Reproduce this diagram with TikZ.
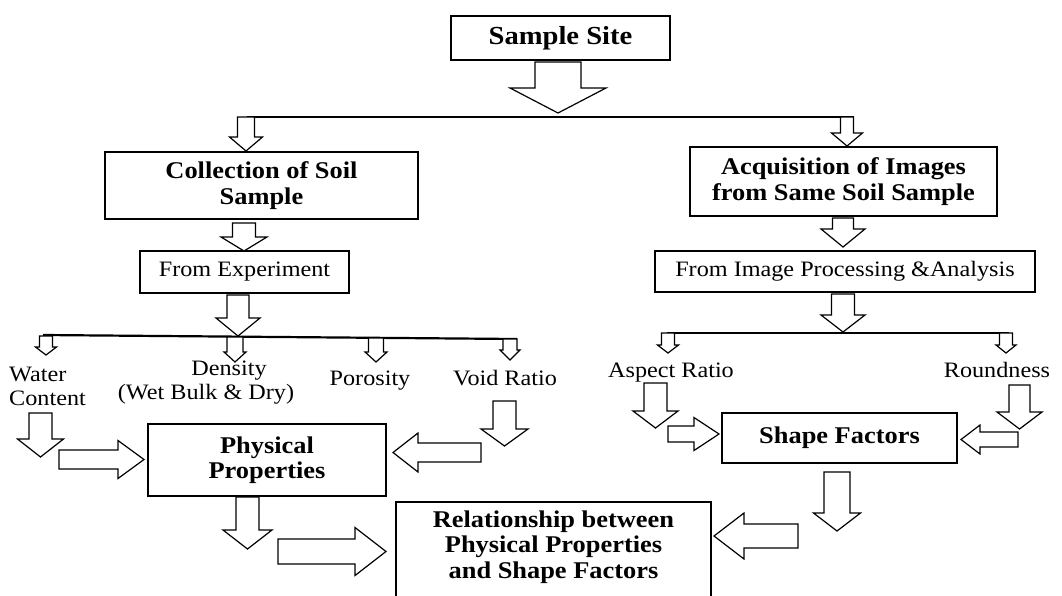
\documentclass[tikz,border=0pt]{standalone}
\usepackage{fontspec}
\setmainfont[FakeStretch=1.1]{Liberation Serif}
\newcommand\dnarrow[6]{\draw[blockarrow] ({#1-#3},#2) -- ({#1-#3},#4) -- ({#1-#5},#4) -- (#1,#6) -- ({#1+#5},#4) -- ({#1+#3},#4) -- ({#1+#3},#2) -- cycle;}
\newcommand\hzarrow[6]{\draw[blockarrow] (#2,{#1-#3}) -- (#4,{#1-#3}) -- (#4,{#1-#5}) -- (#6,#1) -- (#4,{#1+#5}) -- (#4,{#1+#3}) -- (#2,{#1+#3}) -- cycle;}
\tikzset{
  blockarrow/.style={draw=black, line width=1.2pt, line join=miter, fill=white},
  box/.style={draw=black, line width=1.4pt, inner sep=0pt, align=center},
  boldtext/.style={font=\fontsize{24}{25.5}\selectfont\bfseries},
  regtext/.style={font=\fontsize{22}{24}\selectfont},
  label/.style={regtext, inner sep=0pt},
  branch/.style={draw=black, line width=2.2pt}
}
\begin{document}
\begin{tikzpicture}[x=1pt, y=-1pt]
\fill[white] (0,0) rectangle (1062,595);
\useasboundingbox (0,0) rectangle (1062,595);

% boxes
\node[box, font=\fontsize{26}{27}\selectfont\bfseries, minimum width=219pt, minimum height=44pt] (site) at (560.5,38) {Sample Site};
\node[box, boldtext, minimum width=313pt, minimum height=67pt] (coll) at (261.5,185.5) {Collection of Soil\\Sample};
\node[box, boldtext, minimum width=307pt, minimum height=69pt] (acq) at (843.5,181.5) {Acquisition of Images\\from Same Soil Sample};
\node[box, regtext, minimum width=209pt, minimum height=42pt] (fexp) at (244.5,272) {From Experiment};
\node[box, regtext, minimum width=380pt, minimum height=41pt] (fimg) at (845,271.5) {From Image Processing \&Analysis};
\node[box, boldtext, minimum width=238pt, minimum height=72pt] (phys) at (267,460) {Physical\\Properties};
\node[box, boldtext, minimum width=235pt, minimum height=50pt] (shape) at (839.5,438) {Shape Factors};
\draw[line width=1.4pt] (396,597) -- (396,502) -- (711,502) -- (711,597);
\node[boldtext, inner sep=0pt, align=center] (rel) at (553.5,547) {Relationship between\\Physical Properties\\and Shape Factors};

% labels
\node[label, anchor=west, align=left] (water) at (9,386.7) {Water\\Content};
\node[label, align=center] (dens) at (206,382.7) {\hspace*{46pt}Density\\(Wet Bulk \& Dry)};
\node[label, anchor=base] (poro) at (370,385) {Porosity};
\node[label, anchor=base] (void) at (505,385) {Void Ratio};
\node[label, anchor=base] (aspect) at (671,377) {Aspect Ratio};
\node[label, anchor=base] (round) at (997,377) {Roundness};

% branch lines
\coordinate (b1l) at (247,117); \coordinate (b1r) at (854,117);
\coordinate (b2l) at (43,335); \coordinate (b2r) at (517,339);
\coordinate (b3l) at (667,333); \coordinate (b3r) at (1009,333);
\draw[branch] (b1l) -- (b1r);
\draw[branch] (b2l) -- (b2r);
\draw[branch] (b3l) -- (b3r);

% down arrows: cx, top, shaft half, head top, head half, tip
\dnarrow{558}{62}{23}{88}{48}{113}
\dnarrow{246}{117}{8.5}{137}{16.5}{151}
\dnarrow{847}{117}{6.5}{133}{15.5}{146}
\dnarrow{244}{223}{11.5}{237}{23}{251}
\dnarrow{843}{218}{10.5}{229}{22}{247}
\dnarrow{238}{295}{11}{318}{22}{336}
\dnarrow{843}{294}{11.5}{315}{22}{332}
\dnarrow{46}{336}{6.5}{347}{10.5}{355}
\dnarrow{235}{337}{8}{352}{11}{362}
\dnarrow{376}{338}{7.5}{352}{11}{362}
\dnarrow{510}{339}{7}{350}{10}{360}
\dnarrow{668}{333}{6.5}{345}{10.5}{353}
\dnarrow{1006}{333}{6.5}{345}{10}{353}
\dnarrow{40.5}{413}{11.5}{439}{23}{457}
\dnarrow{504.5}{401}{11.5}{429}{23.5}{446}
\dnarrow{247.5}{497}{11.5}{530}{24.5}{549}
\dnarrow{655.5}{383}{11.5}{411}{22.5}{428}
\dnarrow{1019.5}{385}{10.5}{412}{22.5}{429}
\dnarrow{837}{472}{13}{513}{23.5}{531}

% horizontal arrows: cy, start, shaft half, head back, head half, tip
\hzarrow{459.5}{59}{9.5}{118}{19}{144}
\hzarrow{452.5}{481}{9.5}{418}{19.5}{393}
\hzarrow{551.5}{278}{12.5}{355}{24}{386}
\hzarrow{434}{668}{8}{694}{16.5}{719}
\hzarrow{439.5}{1018}{7.5}{980}{14.5}{961}
\hzarrow{536}{798}{12}{744}{23}{714}
\end{tikzpicture}
\end{document}
